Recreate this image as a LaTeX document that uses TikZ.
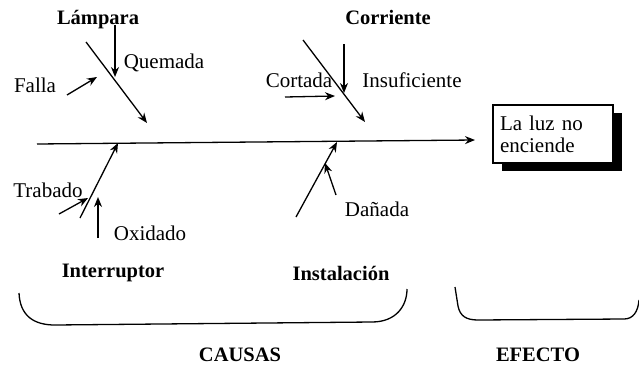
\documentclass[tikz,border=0pt]{standalone}
\usepackage{fontspec}
\setmainfont{Liberation Serif}
\usetikzlibrary{arrows.meta,shadows}
\begin{document}
\begin{tikzpicture}[x=1pt,y=-1pt,
  arr/.style={line width=1.3pt,-{Stealth[length=10pt,width=8pt]}},
  lbl/.style={font=\fontsize{21}{24}\selectfont,inner sep=0pt},
  cat/.style={font=\fontsize{20.5}{24}\selectfont\bfseries,inner sep=0pt},
  bracketline/.style={line width=1.3pt},
  effectbox/.style={draw,line width=1.1pt,fill=white,minimum width=120pt,minimum height=58pt,
    align=left,text width=106pt,inner sep=0pt,font=\fontsize{21}{22}\selectfont,
    drop shadow={shadow xshift=9pt,shadow yshift=-8pt,fill=black,opacity=1}}]
\useasboundingbox (0,0) rectangle (639,372);
% spine
\coordinate (s0) at (37,144);
\coordinate (s1) at (475,140);
\draw[arr] (s0) -- (s1);
% effect box
\node[effectbox] (efecto) at (553,134) {La luz no\\enciende};
% Lampara
\node[cat] (lampara) at (98,20) {Lámpara};
\coordinate (l0) at (86,42); \coordinate (l1) at (147,123);
\draw[arr] (l0) -- (l1);
\coordinate (q0) at (115,25); \coordinate (q1) at (115,77);
\draw[arr] (q0) -- (q1);
\node[lbl] (quemada) at (164,63) {Quemada};
\node[lbl] (falla) at (35,85) {Falla};
\coordinate (f0) at (67,95); \coordinate (f1) at (97,77);
\draw[arr] (f0) -- (f1);
% Corriente
\node[cat] (corriente) at (388,17) {Corriente};
\coordinate (c0) at (303,40); \coordinate (c1) at (365,122);
\draw[arr] (c0) -- (c1);
\coordinate (i0) at (344,44); \coordinate (i1) at (344,93);
\draw[arr] (i0) -- (i1);
\node[lbl] (insuf) at (412,80) {Insuficiente};
\node[lbl] (cortada) at (299,80) {Cortada};
\coordinate (k0) at (285,97); \coordinate (k1) at (335,96);
\draw[arr] (k0) -- (k1);
% Interruptor
\coordinate (t0) at (80,218); \coordinate (t1) at (118,143);
\draw[arr] (t0) -- (t1);
\coordinate (tr0) at (59,214); \coordinate (tr1) at (88,198);
\draw[arr] (tr0) -- (tr1);
\coordinate (o0) at (98,238); \coordinate (o1) at (98,197);
\draw[arr] (o0) -- (o1);
\node[lbl] (trabado) at (48,190) {Trabado};
\node[lbl] (oxidado) at (150,233) {Oxidado};
\node[cat] (interruptor) at (113,273) {Interruptor};
% Instalacion
\coordinate (n0) at (296,217); \coordinate (n1) at (337,142);
\draw[arr] (n0) -- (n1);
\coordinate (d0) at (336,195); \coordinate (d1) at (325,163);
\draw[arr] (d0) -- (d1);
\node[lbl] (danada) at (377,209) {Dañada};
\node[cat] (instalacion) at (341,273) {Instalación};
% brackets
\draw[bracketline] (19,293) .. controls (20,316) and (34,325) .. (55,325) -- (372,322)
  .. controls (396,322) and (407,306) .. (407,289);
\draw[bracketline] (455,287) -- (458,306) .. controls (460,316) and (466,320) .. (478,320)
  -- (624,319) .. controls (633,319) and (638,312) .. (639,300);
\node[cat] (causas) at (240,355) {CAUSAS};
\node[cat] (efectolbl) at (538,355) {EFECTO};
\end{tikzpicture}
\end{document}
